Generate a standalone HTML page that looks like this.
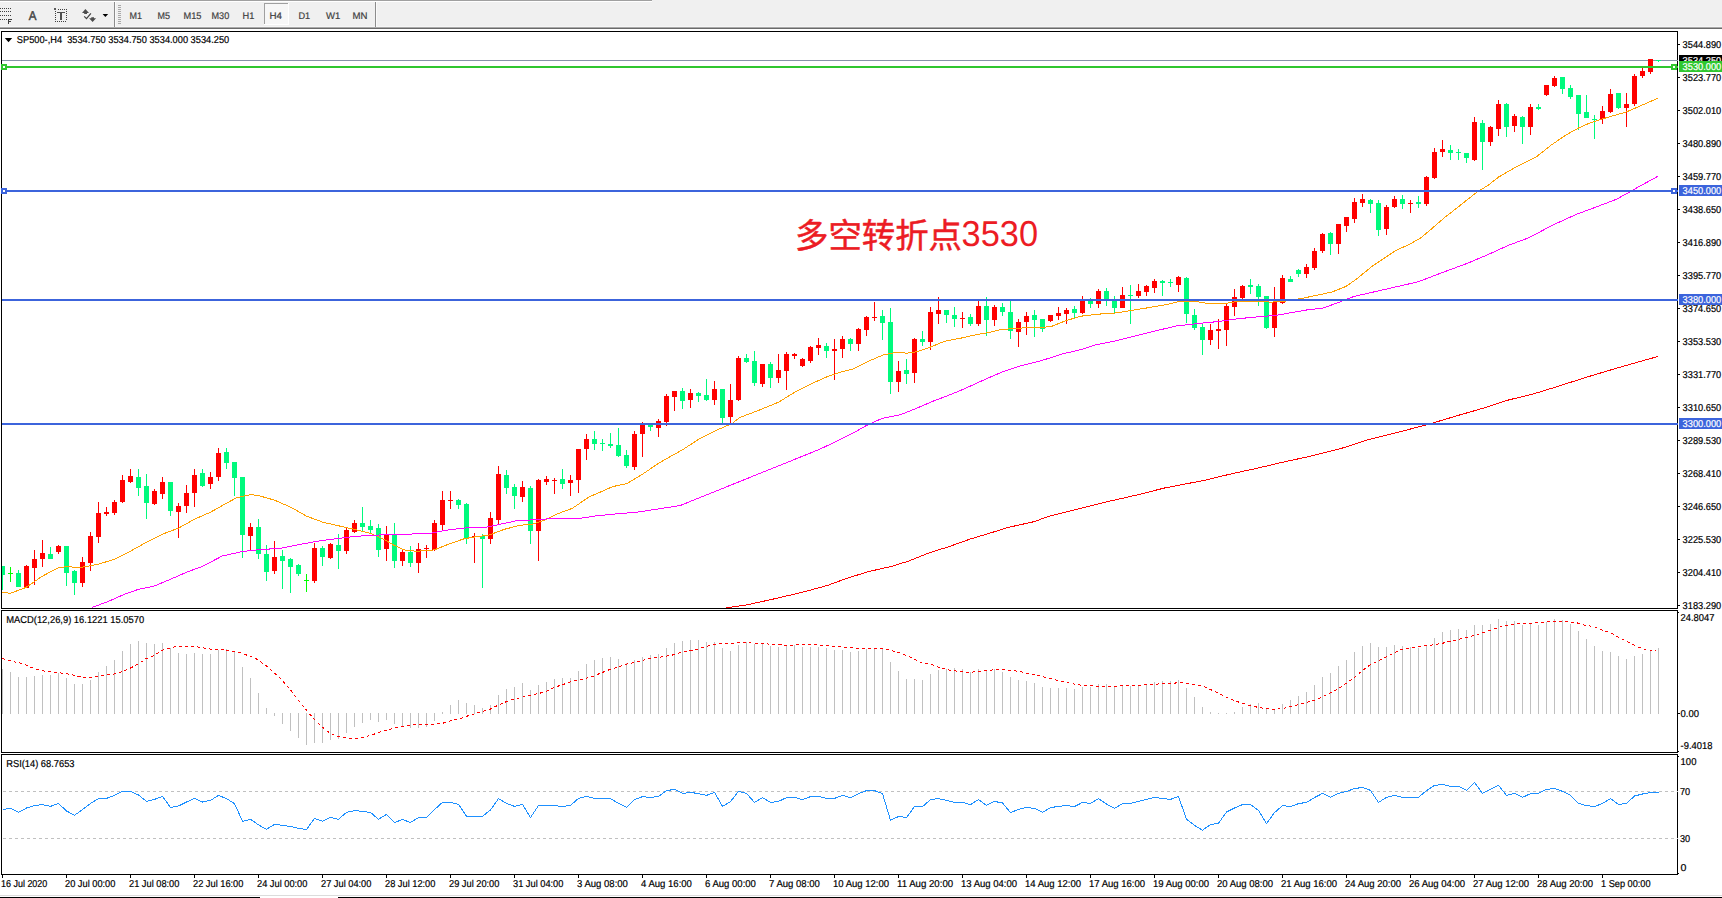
<!DOCTYPE html>
<html lang="zh-CN"><head><meta charset="utf-8"><title>SP500-,H4</title>
<style>html,body{margin:0;padding:0;background:#fff}body{width:1722px;height:898px;overflow:hidden;position:relative;font-family:'Liberation Sans', sans-serif}svg{display:block;position:absolute;left:0;top:0}text{font-family:'Liberation Sans', sans-serif;white-space:pre;text-rendering:geometricPrecision}.cjk{font-family:'Liberation Sans', 'Noto Sans CJK SC', sans-serif;font-weight:400}</style>
</head><body>
<svg width="1722" height="898" viewBox="0 0 1722 898">
<defs><clipPath id="cm"><rect x="2" y="32" width="1676" height="576"/></clipPath><clipPath id="cd"><rect x="2" y="611" width="1675" height="141"/></clipPath><clipPath id="cr"><rect x="2" y="755" width="1675" height="119"/></clipPath></defs>
<rect x="0" y="0" width="1722" height="898" fill="#fff"/>
<g shape-rendering="crispEdges">
<rect x="0" y="0" width="1722" height="27" fill="#f0f0f0"/>
<rect x="0" y="0" width="652" height="1" fill="#a0a0a0"/>
<rect x="0" y="1" width="652" height="1" fill="#ffffff"/>
<rect x="0" y="26" width="1722" height="1" fill="#f6f6f6"/>
<rect x="0" y="27" width="1722" height="1" fill="#a9a9a9"/>
<rect x="0" y="28" width="1722" height="1" fill="#6a6a6a"/>
<rect x="0" y="8" width="1" height="1" fill="#404040"/>
<rect x="2" y="8" width="1" height="1" fill="#404040"/>
<rect x="4" y="8" width="1" height="1" fill="#404040"/>
<rect x="6" y="8" width="1" height="1" fill="#404040"/>
<rect x="8" y="8" width="1" height="1" fill="#404040"/>
<rect x="10" y="8" width="1" height="1" fill="#404040"/>
<rect x="0" y="11" width="1" height="1" fill="#404040"/>
<rect x="2" y="11" width="1" height="1" fill="#404040"/>
<rect x="4" y="11" width="1" height="1" fill="#404040"/>
<rect x="6" y="11" width="1" height="1" fill="#404040"/>
<rect x="8" y="11" width="1" height="1" fill="#404040"/>
<rect x="10" y="11" width="1" height="1" fill="#404040"/>
<rect x="0" y="15" width="1" height="1" fill="#404040"/>
<rect x="2" y="15" width="1" height="1" fill="#404040"/>
<rect x="4" y="15" width="1" height="1" fill="#404040"/>
<rect x="6" y="15" width="1" height="1" fill="#404040"/>
<rect x="8" y="15" width="1" height="1" fill="#404040"/>
<rect x="10" y="15" width="1" height="1" fill="#404040"/>
<rect x="0" y="19" width="1" height="1" fill="#404040"/>
<rect x="2" y="19" width="1" height="1" fill="#404040"/>
<rect x="4" y="19" width="1" height="1" fill="#404040"/>
<rect x="6" y="19" width="1" height="1" fill="#404040"/>
<rect x="8" y="19" width="1.4" height="5" fill="#404040"/>
<rect x="8" y="19" width="4" height="1.2" fill="#404040"/>
<rect x="8" y="21" width="3" height="1" fill="#404040"/>
<rect x="58" y="9" width="1" height="1" fill="#404040"/>
<rect x="60" y="9" width="1" height="1" fill="#404040"/>
<rect x="62" y="9" width="1" height="1" fill="#404040"/>
<rect x="64" y="9" width="1" height="1" fill="#404040"/>
<rect x="66" y="9" width="1" height="1" fill="#404040"/>
<rect x="55" y="21" width="1" height="1" fill="#404040"/>
<rect x="57" y="21" width="1" height="1" fill="#404040"/>
<rect x="59" y="21" width="1" height="1" fill="#404040"/>
<rect x="61" y="21" width="1" height="1" fill="#404040"/>
<rect x="63" y="21" width="1" height="1" fill="#404040"/>
<rect x="65" y="21" width="1" height="1" fill="#404040"/>
<rect x="55" y="11" width="1" height="1" fill="#404040"/>
<rect x="66" y="11" width="1" height="1" fill="#404040"/>
<rect x="55" y="13" width="1" height="1" fill="#404040"/>
<rect x="66" y="13" width="1" height="1" fill="#404040"/>
<rect x="55" y="15" width="1" height="1" fill="#404040"/>
<rect x="66" y="15" width="1" height="1" fill="#404040"/>
<rect x="55" y="17" width="1" height="1" fill="#404040"/>
<rect x="66" y="17" width="1" height="1" fill="#404040"/>
<rect x="55" y="19" width="1" height="1" fill="#404040"/>
<rect x="66" y="19" width="1" height="1" fill="#404040"/>
<rect x="54" y="8" width="2" height="2" fill="#5a5a5a"/>
<rect x="57" y="12" width="8" height="1" fill="#505050"/>
<rect x="60" y="12" width="2" height="8" fill="#505050"/>
<rect x="114" y="2" width="1" height="25" fill="#8c8c8c"/>
<rect x="115" y="2" width="1" height="25" fill="#fafafa"/>
<rect x="375" y="2" width="1" height="25" fill="#8c8c8c"/>
<rect x="376" y="2" width="1" height="25" fill="#fafafa"/>
<rect x="118" y="5" width="3" height="1" fill="#a8a8a8"/>
<rect x="118" y="7" width="3" height="1" fill="#a8a8a8"/>
<rect x="118" y="9" width="3" height="1" fill="#a8a8a8"/>
<rect x="118" y="11" width="3" height="1" fill="#a8a8a8"/>
<rect x="118" y="13" width="3" height="1" fill="#a8a8a8"/>
<rect x="118" y="15" width="3" height="1" fill="#a8a8a8"/>
<rect x="118" y="17" width="3" height="1" fill="#a8a8a8"/>
<rect x="118" y="19" width="3" height="1" fill="#a8a8a8"/>
<rect x="118" y="21" width="3" height="1" fill="#a8a8a8"/>
<rect x="118" y="23" width="3" height="1" fill="#a8a8a8"/>
<rect x="264" y="3" width="25" height="22" fill="#f7f7f7"/>
<rect x="264" y="3" width="25" height="1" fill="#a0a0a0"/>
<rect x="264" y="3" width="1" height="22" fill="#a0a0a0"/>
<rect x="264" y="24" width="25" height="1" fill="#ffffff"/>
<rect x="288" y="3" width="1" height="22" fill="#ffffff"/>
</g>
<path fill="#4d4d4d" d="M85.4,9 L89,12.9 L87,12.9 L87,14 L84.2,14 L84.2,12.9 L82,12.9z"/>
<path fill="#4d4d4d" d="M92.6,22.1 L89.1,18.3 L91.3,18.3 L91.3,17.2 L94,17.2 L94,18.3 L96.1,18.3z"/>
<polyline points="84.2,16.3 86.5,18.7 90.9,13.3" fill="none" stroke="#444" stroke-width="1.2"/>
<polygon points="102.6,14 108.2,14 105.4,17.1" fill="#000"/>
<text transform="translate(28.75,19.85) scale(0.9019,1)" font-size="12.8" fill="#444" stroke="#444" stroke-width="0.5">A</text>
<text transform="translate(129.50,18.85) scale(0.9373,1)" font-size="9.6" fill="#404040" stroke="#404040" stroke-width="0.2">M1</text>
<text transform="translate(157.50,18.85) scale(0.9373,1)" font-size="9.6" fill="#404040" stroke="#404040" stroke-width="0.2">M5</text>
<text transform="translate(183.50,18.85) scale(0.9638,1)" font-size="9.6" fill="#404040" stroke="#404040" stroke-width="0.2">M15</text>
<text transform="translate(211.50,18.85) scale(0.9478,1)" font-size="9.6" fill="#404040" stroke="#404040" stroke-width="0.2">M30</text>
<text transform="translate(242.50,18.85) scale(0.9615,1)" font-size="9.6" fill="#404040" stroke="#404040" stroke-width="0.2">H1</text>
<text transform="translate(269.50,18.85) scale(1.0186,1)" font-size="9.6" fill="#404040" stroke="#404040" stroke-width="0.2">H4</text>
<text transform="translate(298.50,18.85) scale(0.9534,1)" font-size="9.6" fill="#404040" stroke="#404040" stroke-width="0.2">D1</text>
<text transform="translate(326.00,18.85) scale(0.9931,1)" font-size="9.6" fill="#404040" stroke="#404040" stroke-width="0.2">W1</text>
<text transform="translate(352.50,18.85) scale(1.0047,1)" font-size="9.6" fill="#404040" stroke="#404040" stroke-width="0.2">MN</text>
<g shape-rendering="crispEdges" fill="none" stroke="#000" stroke-width="1">
<rect x="1.5" y="31.5" width="1676" height="577"/>
<rect x="1.5" y="610.5" width="1676" height="142"/>
<rect x="1.5" y="754.5" width="1676" height="120"/>
</g>
<g shape-rendering="crispEdges">
<rect x="0" y="895" width="1722" height="1" fill="#dcdcdc"/>
<rect x="0" y="897" width="260" height="1" fill="#000"/>
<rect x="338" y="897" width="1384" height="1" fill="#000"/>
</g>
<g clip-path="url(#cm)">
<g shape-rendering="crispEdges">
<rect x="2" y="60" width="1676" height="1" fill="#8494a8"/>
</g>
<text class="cjk" x="795" y="248" font-size="34.5" fill="#ec1c24" stroke="#ec1c24" stroke-width="0.5" textLength="167" lengthAdjust="spacingAndGlyphs">多空转折点</text>
<text class="cjk" x="961.6" y="246.4" font-size="36" fill="#ec1c24" textLength="76.5" lengthAdjust="spacingAndGlyphs">3530</text>
<g shape-rendering="crispEdges">
<path fill="#ff0000" d="M24,566h5v22h-5zM26,565h1v23h-1zM32,559h5v9h-5zM34,550h1v35h-1zM40,553h5v6h-5zM42,540h1v27h-1zM56,546h5v6h-5zM58,545h1v9h-1zM80,562h5v21h-5zM82,557h1v30h-1zM88,536h5v27h-5zM90,532h1v39h-1zM96,513h5v24h-5zM98,502h1v41h-1zM104,512h5v2h-5zM106,507h1v9h-1zM112,502h5v11h-5zM114,500h1v15h-1zM120,480h5v22h-5zM122,475h1v28h-1zM128,476h5v6h-5zM130,469h1v14h-1zM152,491h5v13h-5zM154,489h1v16h-1zM160,482h5v12h-5zM162,477h1v22h-1zM176,506h5v6h-5zM178,503h1v35h-1zM184,493h5v13h-5zM186,485h1v28h-1zM192,475h5v18h-5zM194,469h1v38h-1zM208,477h5v7h-5zM210,472h1v17h-1zM216,453h5v24h-5zM218,448h1v33h-1zM248,527h5v9h-5zM250,523h1v27h-1zM272,557h5v14h-5zM274,541h1v33h-1zM312,548h5v33h-5zM314,543h1v40h-1zM328,544h5v14h-5zM330,543h1v16h-1zM344,530h5v21h-5zM346,528h1v26h-1zM352,523h5v9h-5zM354,520h1v13h-1zM384,535h5v14h-5zM386,526h1v35h-1zM400,552h5v9h-5zM402,550h1v16h-1zM416,549h5v14h-5zM418,543h1v30h-1zM424,548h5v1h-5zM426,545h1v13h-1zM432,523h5v27h-5zM434,520h1v31h-1zM440,500h5v25h-5zM442,491h1v40h-1zM448,500h5v1h-5zM450,491h1v18h-1zM472,536h5v1h-5zM474,533h1v30h-1zM488,518h5v21h-5zM490,512h1v32h-1zM496,474h5v46h-5zM498,466h1v58h-1zM520,487h5v10h-5zM522,481h1v21h-1zM536,480h5v51h-5zM538,479h1v82h-1zM544,479h5v3h-5zM546,476h1v9h-1zM552,480h5v1h-5zM554,478h1v16h-1zM568,480h5v3h-5zM570,475h1v21h-1zM576,449h5v31h-5zM578,449h1v44h-1zM584,439h5v10h-5zM586,434h1v26h-1zM632,434h5v33h-5zM634,431h1v39h-1zM640,423h5v11h-5zM642,422h1v35h-1zM656,421h5v7h-5zM658,419h1v18h-1zM664,396h5v26h-5zM666,394h1v32h-1zM672,391h5v6h-5zM674,391h1v20h-1zM688,393h5v7h-5zM690,389h1v19h-1zM712,389h5v11h-5zM714,381h1v24h-1zM728,400h5v17h-5zM730,384h1v39h-1zM736,358h5v42h-5zM738,356h1v45h-1zM760,364h5v20h-5zM762,364h1v23h-1zM776,370h5v8h-5zM778,354h1v29h-1zM784,354h5v17h-5zM786,352h1v38h-1zM792,354h5v2h-5zM794,353h1v6h-1zM800,359h5v7h-5zM802,358h1v9h-1zM808,347h5v14h-5zM810,346h1v17h-1zM816,345h5v3h-5zM818,338h1v17h-1zM832,349h5v2h-5zM834,339h1v41h-1zM840,339h5v10h-5zM842,336h1v22h-1zM856,329h5v15h-5zM858,328h1v23h-1zM864,317h5v13h-5zM866,316h1v20h-1zM872,317h5v1h-5zM874,302h1v19h-1zM896,371h5v11h-5zM898,361h1v31h-1zM912,339h5v34h-5zM914,338h1v45h-1zM928,312h5v30h-5zM930,307h1v43h-1zM936,310h5v4h-5zM938,297h1v27h-1zM960,318h5v1h-5zM962,312h1v16h-1zM976,306h5v18h-5zM978,301h1v25h-1zM992,307h5v13h-5zM994,305h1v21h-1zM1016,322h5v10h-5zM1018,319h1v28h-1zM1024,316h5v6h-5zM1026,312h1v23h-1zM1048,315h5v6h-5zM1050,315h1v7h-1zM1056,313h5v3h-5zM1058,307h1v13h-1zM1064,310h5v4h-5zM1066,308h1v16h-1zM1080,300h5v13h-5zM1082,296h1v18h-1zM1096,291h5v13h-5zM1098,289h1v19h-1zM1120,295h5v13h-5zM1122,287h1v21h-1zM1136,291h5v5h-5zM1138,284h1v14h-1zM1144,286h5v6h-5zM1146,285h1v11h-1zM1152,281h5v7h-5zM1154,279h1v14h-1zM1176,277h5v8h-5zM1178,276h1v16h-1zM1208,330h5v10h-5zM1210,324h1v21h-1zM1216,329h5v2h-5zM1218,319h1v30h-1zM1224,306h5v24h-5zM1226,304h1v42h-1zM1232,297h5v10h-5zM1234,289h1v27h-1zM1240,286h5v12h-5zM1242,285h1v14h-1zM1272,302h5v26h-5zM1274,287h1v50h-1zM1280,278h5v25h-5zM1282,275h1v29h-1zM1304,267h5v7h-5zM1306,264h1v14h-1zM1312,251h5v17h-5zM1314,248h1v22h-1zM1320,234h5v17h-5zM1322,233h1v20h-1zM1336,224h5v20h-5zM1338,224h1v30h-1zM1344,217h5v9h-5zM1346,217h1v15h-1zM1352,202h5v17h-5zM1354,198h1v25h-1zM1360,199h5v4h-5zM1362,194h1v13h-1zM1384,207h5v22h-5zM1386,205h1v30h-1zM1392,199h5v8h-5zM1394,196h1v12h-1zM1408,203h5v1h-5zM1410,200h1v13h-1zM1424,177h5v27h-5zM1426,176h1v30h-1zM1432,152h5v26h-5zM1434,148h1v31h-1zM1440,149h5v3h-5zM1442,140h1v17h-1zM1472,122h5v38h-5zM1474,117h1v44h-1zM1488,127h5v15h-5zM1490,126h1v20h-1zM1496,104h5v25h-5zM1498,100h1v36h-1zM1512,116h5v10h-5zM1514,114h1v18h-1zM1528,107h5v20h-5zM1530,104h1v31h-1zM1544,85h5v10h-5zM1546,85h1v11h-1zM1552,78h5v8h-5zM1554,76h1v11h-1zM1600,111h5v8h-5zM1602,106h1v18h-1zM1608,94h5v18h-5zM1610,89h1v24h-1zM1624,104h5v4h-5zM1626,93h1v34h-1zM1632,76h5v28h-5zM1634,74h1v32h-1zM1640,71h5v5h-5zM1642,68h1v10h-1zM1648,59h5v13h-5zM1650,59h1v15h-1z"/>
<path fill="#00fa7d" d="M0,566h5v9h-5zM2,566h1v24h-1zM16,573h5v14h-5zM18,570h1v17h-1zM48,554h5v5h-5zM50,547h1v12h-1zM64,546h5v27h-5zM66,546h1v40h-1zM72,571h5v12h-5zM74,570h1v25h-1zM136,477h5v11h-5zM138,469h1v27h-1zM144,486h5v17h-5zM146,474h1v45h-1zM168,482h5v29h-5zM170,482h1v34h-1zM200,473h5v13h-5zM202,469h1v18h-1zM224,452h5v11h-5zM226,448h1v21h-1zM232,462h5v16h-5zM234,462h1v34h-1zM240,477h5v58h-5zM242,477h1v81h-1zM256,527h5v27h-5zM258,519h1v40h-1zM264,554h5v18h-5zM266,545h1v36h-1zM280,556h5v5h-5zM282,550h1v39h-1zM288,559h5v8h-5zM290,558h1v35h-1zM296,565h5v9h-5zM298,564h1v12h-1zM320,548h5v9h-5zM322,546h1v20h-1zM336,545h5v6h-5zM338,534h1v35h-1zM360,523h5v4h-5zM362,507h1v24h-1zM368,526h5v4h-5zM370,520h1v13h-1zM376,528h5v22h-5zM378,524h1v33h-1zM392,534h5v27h-5zM394,523h1v45h-1zM408,552h5v11h-5zM410,546h1v21h-1zM456,500h5v5h-5zM458,499h1v10h-1zM464,504h5v34h-5zM466,503h1v41h-1zM480,536h5v3h-5zM482,534h1v54h-1zM504,475h5v13h-5zM506,470h1v24h-1zM512,487h5v9h-5zM514,484h1v25h-1zM528,488h5v43h-5zM530,486h1v58h-1zM560,479h5v5h-5zM562,469h1v20h-1zM592,439h5v5h-5zM594,431h1v19h-1zM600,443h5v1h-5zM602,439h1v12h-1zM608,444h5v2h-5zM610,433h1v15h-1zM616,445h5v11h-5zM618,428h1v29h-1zM624,455h5v11h-5zM626,450h1v18h-1zM648,423h5v4h-5zM650,423h1v8h-1zM680,391h5v10h-5zM682,388h1v21h-1zM696,393h5v3h-5zM698,392h1v10h-1zM704,395h5v5h-5zM706,379h1v22h-1zM720,389h5v29h-5zM722,389h1v34h-1zM744,358h5v4h-5zM746,354h1v9h-1zM752,361h5v22h-5zM754,351h1v35h-1zM768,364h5v14h-5zM770,362h1v26h-1zM824,346h5v5h-5zM826,343h1v15h-1zM848,339h5v5h-5zM850,338h1v13h-1zM880,316h5v7h-5zM882,310h1v30h-1zM888,322h5v60h-5zM890,308h1v86h-1zM904,370h5v4h-5zM906,359h1v25h-1zM920,339h5v3h-5zM922,331h1v15h-1zM944,310h5v5h-5zM946,310h1v13h-1zM952,315h5v4h-5zM954,307h1v20h-1zM968,317h5v7h-5zM970,314h1v12h-1zM984,306h5v14h-5zM986,297h1v39h-1zM1000,307h5v5h-5zM1002,303h1v13h-1zM1008,312h5v19h-5zM1010,301h1v38h-1zM1032,315h5v5h-5zM1034,310h1v27h-1zM1040,319h5v10h-5zM1042,319h1v13h-1zM1072,309h5v4h-5zM1074,306h1v12h-1zM1088,300h5v4h-5zM1090,298h1v10h-1zM1104,291h5v9h-5zM1106,288h1v18h-1zM1112,300h5v8h-5zM1114,296h1v17h-1zM1128,295h5v1h-5zM1130,285h1v39h-1zM1160,281h5v2h-5zM1162,280h1v16h-1zM1168,282h5v1h-5zM1170,279h1v8h-1zM1184,278h5v36h-5zM1186,277h1v46h-1zM1192,315h5v13h-5zM1194,309h1v21h-1zM1200,327h5v13h-5zM1202,324h1v31h-1zM1248,285h5v2h-5zM1250,279h1v15h-1zM1256,286h5v11h-5zM1258,284h1v22h-1zM1264,296h5v32h-5zM1266,296h1v33h-1zM1288,279h5v3h-5zM1290,276h1v6h-1zM1296,270h5v4h-5zM1298,269h1v8h-1zM1328,233h5v11h-5zM1330,232h1v23h-1zM1368,200h5v4h-5zM1370,199h1v14h-1zM1376,203h5v27h-5zM1378,200h1v36h-1zM1400,199h5v5h-5zM1402,195h1v14h-1zM1416,202h5v2h-5zM1418,196h1v12h-1zM1448,150h5v3h-5zM1450,145h1v15h-1zM1456,152h5v1h-5zM1458,149h1v11h-1zM1464,153h5v5h-5zM1466,153h1v10h-1zM1480,123h5v19h-5zM1482,120h1v50h-1zM1504,104h5v23h-5zM1506,103h1v34h-1zM1520,117h5v10h-5zM1522,116h1v28h-1zM1536,107h5v2h-5zM1538,104h1v6h-1zM1560,77h5v12h-5zM1562,77h1v17h-1zM1568,88h5v9h-5zM1570,85h1v14h-1zM1576,95h5v19h-5zM1578,95h1v35h-1zM1584,112h5v6h-5zM1586,95h1v23h-1zM1592,119h5v1h-5zM1594,115h1v24h-1zM1616,93h5v15h-5zM1618,93h1v16h-1zM1656,60h5v1h-5zM1658,60h1v2h-1z"/>
<path fill="#00ff00" d="M8,573h5v1h-5zM10,567h1v15h-1zM304,580h5v1h-5zM306,574h1v18h-1z"/>
</g>
<g shape-rendering="crispEdges" fill="none" stroke-width="1">
<polyline stroke="#ffa000" points="2.0,592.0 10.0,593.4 26.1,587.4 42.1,576.3 58.1,567.9 66.2,566.7 80.2,567.5 98.2,564.3 114.3,559.3 130.3,551.3 146.3,542.3 162.4,534.2 178.4,528.2 194.5,519.2 210.5,512.2 226.5,503.2 236.6,497.8 250.6,494.6 258.6,495.6 274.6,500.2 290.7,507.2 306.7,516.2 322.8,522.2 336.0,525.2 354.0,529.3 370.1,533.3 382.1,538.3 394.1,545.3 404.2,549.9 416.2,551.3 434.2,549.9 448.3,544.3 464.3,538.7 476.3,536.7 488.4,535.3 504.4,529.3 520.4,525.2 532.5,524.2 544.5,520.2 556.5,514.2 572.6,508.2 588.6,497.2 604.6,490.2 612.6,486.6 626.7,483.7 642.7,474.1 658.8,463.1 683.1,449.4 700.1,438.4 716.2,430.4 732.2,423.4 740.2,417.3 756.3,411.3 778.3,402.3 796.3,391.3 812.4,383.3 828.4,376.2 840.4,372.2 852.5,369.2 868.5,361.2 882.5,355.2 896.6,352.2 906.6,353.2 916.6,351.8 928.7,347.8 944.7,341.2 960.7,338.2 976.0,334.7 988.0,332.7 1000.1,329.7 1016.1,328.3 1036.1,327.3 1050.2,326.9 1064.2,321.3 1080.2,316.3 1096.3,314.3 1116.3,312.9 1132.4,310.3 1148.4,307.7 1168.4,304.2 1178.5,301.6 1196.5,301.6 1208.5,303.6 1226.6,303.2 1236.6,301.6 1246.6,301.2 1260.7,301.2 1270.7,302.2 1284.7,301.2 1302.0,298.4 1316.0,295.4 1332.1,292.0 1346.1,286.4 1356.1,279.3 1372.2,266.3 1384.2,258.3 1396.2,250.3 1408.3,244.9 1420.3,238.3 1432.3,228.2 1444.3,217.8 1460.4,205.2 1476.4,192.5 1488.4,185.1 1498.5,177.1 1516.5,166.7 1525.0,162.6 1537.0,156.3 1552.1,144.4 1567.2,134.3 1578.5,128.0 1589.8,123.0 1602.4,118.9 1615.0,115.2 1626.3,112.0 1640.1,106.0 1650.2,101.6 1657.7,98.2"/>
<polyline stroke="#ff00ff" points="92.2,607.4 108.3,601.4 124.3,594.4 138.3,589.4 154.4,586.0 170.4,579.3 186.4,572.3 202.5,566.3 222.5,555.9 242.6,551.5 258.6,549.7 280.7,548.3 300.7,544.3 320.7,540.7 336.0,538.7 356.0,536.3 384.1,534.7 416.2,533.9 430.2,533.3 448.3,529.9 466.3,527.9 486.3,527.2 500.4,524.2 516.4,520.8 536.5,519.6 556.5,518.4 580.6,518.2 596.6,515.8 616.7,513.8 636.7,512.2 656.7,509.2 680.0,505.6 819.4,449.4 836.4,441.4 852.5,433.4 868.5,424.4 882.5,418.3 900.6,414.7 916.6,408.3 932.7,401.3 948.7,395.3 964.7,388.7 980.8,381.3 985.0,379.4 1002.1,372.0 1020.1,366.0 1042.2,360.4 1062.2,354.0 1082.2,349.3 1096.3,344.7 1116.3,340.7 1136.4,335.7 1156.4,330.7 1176.5,325.9 1196.5,323.7 1216.6,321.7 1236.6,318.9 1256.7,316.9 1276.7,315.3 1296.7,311.7 1310.0,309.4 1322.1,308.4 1336.1,303.4 1354.1,296.4 1376.2,291.4 1396.2,286.8 1418.3,281.8 1440.3,273.3 1466.4,263.7 1486.4,255.3 1508.5,245.3 1528.5,237.9 1552.6,225.2 1576.7,214.2 1596.7,206.8 1616.7,199.2 1632.8,190.1 1640.0,186.1 1657.6,176.4"/>
<polyline stroke="#ff0000" points="726.1,607.9 746.5,605.0 772.6,599.2 801.6,592.5 827.8,585.3 845.2,578.9 868.4,571.6 891.6,566.4 909.1,560.9 929.4,552.8 949.7,546.4 970.0,539.1 990.4,533.0 1007.8,527.5 1033.9,521.7 1048.4,516.5 1077.5,509.2 1106.5,501.9 1135.5,495.3 1164.6,488.0 1206.1,480.0 1232.3,473.6 1255.5,468.6 1281.6,462.5 1310.7,456.1 1339.7,448.9 1368.7,439.6 1397.8,432.3 1426.8,424.8 1455.8,416.1 1484.9,407.7 1508.1,400.1 1534.2,393.7 1557.5,386.5 1586.5,377.2 1615.5,368.5 1638.8,361.8 1657.6,356.6"/>
<rect x="2" y="66" width="1676" height="2" fill="#2fc72f"/>
<rect x="2" y="190" width="1676" height="2" fill="#3c64dc"/>
<rect x="2" y="299" width="1676" height="2" fill="#3c64dc"/>
<rect x="2" y="423" width="1676" height="2" fill="#3c64dc"/>
</g>
</g>
<g shape-rendering="crispEdges">
<rect x="1" y="64" width="6" height="6" fill="#2fc72f"/>
<rect x="3" y="66" width="2" height="2" fill="#fff"/>
<rect x="1671" y="64" width="6" height="6" fill="#2fc72f"/>
<rect x="1673" y="66" width="2" height="2" fill="#fff"/>
<rect x="1" y="188" width="6" height="6" fill="#3c64dc"/>
<rect x="3" y="190" width="2" height="2" fill="#fff"/>
<rect x="1671" y="188" width="6" height="6" fill="#3c64dc"/>
<rect x="1673" y="190" width="2" height="2" fill="#fff"/>
</g>
<polygon points="4.8,38 12.2,38 8.5,42.2" fill="#000"/>
<text transform="translate(16.80,42.85) scale(0.9249,1)" font-size="10" fill="#000" stroke="#000" stroke-width="0.2">SP500-,H4  3534.750 3534.750 3534.000 3534.250</text>
<g shape-rendering="crispEdges">
<rect x="1678" y="44" width="2" height="1" fill="#000"/>
<rect x="1678" y="77" width="2" height="1" fill="#000"/>
<rect x="1678" y="110" width="2" height="1" fill="#000"/>
<rect x="1678" y="143" width="2" height="1" fill="#000"/>
<rect x="1678" y="176" width="2" height="1" fill="#000"/>
<rect x="1678" y="209" width="2" height="1" fill="#000"/>
<rect x="1678" y="242" width="2" height="1" fill="#000"/>
<rect x="1678" y="275" width="2" height="1" fill="#000"/>
<rect x="1678" y="308" width="2" height="1" fill="#000"/>
<rect x="1678" y="341" width="2" height="1" fill="#000"/>
<rect x="1678" y="374" width="2" height="1" fill="#000"/>
<rect x="1678" y="407" width="2" height="1" fill="#000"/>
<rect x="1678" y="440" width="2" height="1" fill="#000"/>
<rect x="1678" y="473" width="2" height="1" fill="#000"/>
<rect x="1678" y="506" width="2" height="1" fill="#000"/>
<rect x="1678" y="539" width="2" height="1" fill="#000"/>
<rect x="1678" y="572" width="2" height="1" fill="#000"/>
<rect x="1678" y="605" width="2" height="1" fill="#000"/>
<rect x="1678" y="612" width="1" height="1" fill="#000"/>
<rect x="1678" y="751" width="1" height="1" fill="#000"/>
<rect x="1678" y="756" width="1" height="1" fill="#000"/>
<rect x="1678" y="873" width="1" height="1" fill="#000"/>
</g>
<text transform="translate(1682.60,47.85) scale(0.9255,1)" font-size="10" fill="#000" stroke="#000" stroke-width="0.2">3544.890</text>
<text transform="translate(1682.60,80.85) scale(0.9255,1)" font-size="10" fill="#000" stroke="#000" stroke-width="0.2">3523.770</text>
<text transform="translate(1682.60,113.85) scale(0.9255,1)" font-size="10" fill="#000" stroke="#000" stroke-width="0.2">3502.010</text>
<text transform="translate(1682.60,146.85) scale(0.9255,1)" font-size="10" fill="#000" stroke="#000" stroke-width="0.2">3480.890</text>
<text transform="translate(1682.60,179.85) scale(0.9255,1)" font-size="10" fill="#000" stroke="#000" stroke-width="0.2">3459.770</text>
<text transform="translate(1682.60,212.85) scale(0.9255,1)" font-size="10" fill="#000" stroke="#000" stroke-width="0.2">3438.650</text>
<text transform="translate(1682.60,245.85) scale(0.9255,1)" font-size="10" fill="#000" stroke="#000" stroke-width="0.2">3416.890</text>
<text transform="translate(1682.60,278.85) scale(0.9255,1)" font-size="10" fill="#000" stroke="#000" stroke-width="0.2">3395.770</text>
<text transform="translate(1682.60,311.85) scale(0.9255,1)" font-size="10" fill="#000" stroke="#000" stroke-width="0.2">3374.650</text>
<text transform="translate(1682.60,344.85) scale(0.9255,1)" font-size="10" fill="#000" stroke="#000" stroke-width="0.2">3353.530</text>
<text transform="translate(1682.60,377.85) scale(0.9255,1)" font-size="10" fill="#000" stroke="#000" stroke-width="0.2">3331.770</text>
<text transform="translate(1682.60,410.85) scale(0.9255,1)" font-size="10" fill="#000" stroke="#000" stroke-width="0.2">3310.650</text>
<text transform="translate(1682.60,443.85) scale(0.9255,1)" font-size="10" fill="#000" stroke="#000" stroke-width="0.2">3289.530</text>
<text transform="translate(1682.60,476.85) scale(0.9255,1)" font-size="10" fill="#000" stroke="#000" stroke-width="0.2">3268.410</text>
<text transform="translate(1682.60,509.85) scale(0.9255,1)" font-size="10" fill="#000" stroke="#000" stroke-width="0.2">3246.650</text>
<text transform="translate(1682.60,542.85) scale(0.9255,1)" font-size="10" fill="#000" stroke="#000" stroke-width="0.2">3225.530</text>
<text transform="translate(1682.60,575.85) scale(0.9255,1)" font-size="10" fill="#000" stroke="#000" stroke-width="0.2">3204.410</text>
<text transform="translate(1682.60,608.85) scale(0.9255,1)" font-size="10" fill="#000" stroke="#000" stroke-width="0.2">3183.290</text>
<g shape-rendering="crispEdges">
<rect x="1679" y="55" width="43" height="11" fill="#000"/>
<rect x="1679" y="61" width="43" height="11" fill="#2fc72f"/>
<rect x="1679" y="185" width="43" height="11" fill="#3c64dc"/>
<rect x="1679" y="294" width="43" height="11" fill="#3c64dc"/>
<rect x="1679" y="418" width="43" height="11" fill="#3c64dc"/>
</g>
<text transform="translate(1682.60,63.85) scale(0.9255,1)" font-size="10" fill="#fff" stroke="#fff" stroke-width="0.2">3534.250</text>
<rect x="1679" y="61" width="43" height="11" fill="#2fc72f" shape-rendering="crispEdges"/>
<text transform="translate(1682.60,69.85) scale(0.9255,1)" font-size="10" fill="#fff" stroke="#fff" stroke-width="0.2">3530.000</text>
<text transform="translate(1682.60,193.85) scale(0.9255,1)" font-size="10" fill="#fff" stroke="#fff" stroke-width="0.2">3450.000</text>
<text transform="translate(1682.60,302.85) scale(0.9255,1)" font-size="10" fill="#fff" stroke="#fff" stroke-width="0.2">3380.000</text>
<text transform="translate(1682.60,426.85) scale(0.9255,1)" font-size="10" fill="#fff" stroke="#fff" stroke-width="0.2">3300.000</text>
<g clip-path="url(#cd)">
<g shape-rendering="crispEdges">
<path fill="#c0c0c0" d="M2,669h1v45h-1zM10,672h1v42h-1zM18,677h1v37h-1zM26,677h1v37h-1zM34,676h1v38h-1zM42,675h1v39h-1zM50,675h1v39h-1zM58,673h1v41h-1zM66,678h1v36h-1zM74,684h1v30h-1zM82,684h1v30h-1zM90,680h1v34h-1zM98,672h1v42h-1zM106,666h1v48h-1zM114,660h1v54h-1zM122,651h1v63h-1zM130,644h1v70h-1zM138,641h1v73h-1zM146,643h1v71h-1zM154,644h1v70h-1zM162,643h1v71h-1zM170,648h1v66h-1zM178,653h1v61h-1zM186,654h1v60h-1zM194,653h1v61h-1zM202,654h1v60h-1zM210,654h1v60h-1zM218,650h1v64h-1zM226,649h1v65h-1zM234,652h1v62h-1zM242,667h1v47h-1zM250,678h1v36h-1zM258,693h1v21h-1zM266,708h1v6h-1zM274,713h1v3h-1zM282,713h1v11h-1zM290,713h1v18h-1zM298,713h1v25h-1zM306,713h1v32h-1zM314,713h1v30h-1zM322,713h1v30h-1zM330,713h1v27h-1zM338,713h1v26h-1zM346,713h1v20h-1zM354,713h1v14h-1zM362,713h1v10h-1zM370,713h1v7h-1zM378,713h1v9h-1zM386,713h1v7h-1zM394,713h1v11h-1zM402,713h1v13h-1zM410,713h1v15h-1zM418,713h1v15h-1zM426,713h1v14h-1zM434,713h1v8h-1zM442,712h1v2h-1zM450,705h1v9h-1zM458,700h1v14h-1zM466,703h1v11h-1zM474,705h1v9h-1zM482,708h1v6h-1zM490,705h1v9h-1zM498,695h1v19h-1zM506,689h1v25h-1zM514,687h1v27h-1zM522,683h1v31h-1zM530,690h1v24h-1zM538,685h1v29h-1zM546,682h1v32h-1zM554,679h1v35h-1zM562,678h1v36h-1zM570,678h1v36h-1zM578,671h1v43h-1zM586,664h1v50h-1zM594,660h1v54h-1zM602,658h1v56h-1zM610,657h1v57h-1zM618,659h1v55h-1zM626,663h1v51h-1zM634,660h1v54h-1zM642,657h1v57h-1zM650,655h1v59h-1zM658,654h1v60h-1zM666,648h1v66h-1zM674,643h1v71h-1zM682,641h1v73h-1zM690,640h1v74h-1zM698,640h1v74h-1zM706,642h1v72h-1zM714,642h1v72h-1zM722,648h1v66h-1zM730,651h1v63h-1zM738,645h1v69h-1zM746,642h1v72h-1zM754,644h1v70h-1zM762,643h1v71h-1zM770,646h1v68h-1zM778,647h1v67h-1zM786,646h1v68h-1zM794,645h1v69h-1zM802,647h1v67h-1zM810,647h1v67h-1zM818,647h1v67h-1zM826,648h1v66h-1zM834,650h1v64h-1zM842,650h1v64h-1zM850,652h1v62h-1zM858,651h1v63h-1zM866,649h1v65h-1zM874,648h1v66h-1zM882,648h1v66h-1zM890,662h1v52h-1zM898,671h1v43h-1zM906,679h1v35h-1zM914,679h1v35h-1zM922,680h1v34h-1zM930,674h1v40h-1zM938,670h1v44h-1zM946,669h1v45h-1zM954,668h1v46h-1zM962,669h1v45h-1zM970,672h1v42h-1zM978,669h1v45h-1zM986,670h1v44h-1zM994,669h1v45h-1zM1002,672h1v42h-1zM1010,677h1v37h-1zM1018,680h1v34h-1zM1026,681h1v33h-1zM1034,683h1v31h-1zM1042,687h1v27h-1zM1050,688h1v26h-1zM1058,688h1v26h-1zM1066,688h1v26h-1zM1074,689h1v25h-1zM1082,687h1v27h-1zM1090,687h1v27h-1zM1098,684h1v30h-1zM1106,684h1v30h-1zM1114,686h1v28h-1zM1122,685h1v29h-1zM1130,686h1v28h-1zM1138,685h1v29h-1zM1146,684h1v30h-1zM1154,682h1v32h-1zM1162,681h1v33h-1zM1170,681h1v33h-1zM1178,680h1v34h-1zM1186,688h1v26h-1zM1194,697h1v17h-1zM1202,707h1v7h-1zM1210,712h1v2h-1zM1218,713h1v1h-1zM1226,713h1v1h-1zM1234,712h1v2h-1zM1242,707h1v7h-1zM1250,704h1v10h-1zM1258,703h1v11h-1zM1266,709h1v5h-1zM1274,709h1v5h-1zM1282,704h1v10h-1zM1290,700h1v14h-1zM1298,696h1v18h-1zM1306,692h1v22h-1zM1314,685h1v29h-1zM1322,677h1v37h-1zM1330,673h1v41h-1zM1338,666h1v48h-1zM1346,660h1v54h-1zM1354,652h1v62h-1zM1362,646h1v68h-1zM1370,643h1v71h-1zM1378,647h1v67h-1zM1386,647h1v67h-1zM1394,645h1v69h-1zM1402,646h1v68h-1zM1410,647h1v67h-1zM1418,648h1v66h-1zM1426,645h1v69h-1zM1434,638h1v76h-1zM1442,632h1v82h-1zM1450,630h1v84h-1zM1458,629h1v85h-1zM1466,630h1v84h-1zM1474,625h1v89h-1zM1482,625h1v89h-1zM1490,624h1v90h-1zM1498,619h1v95h-1zM1506,621h1v93h-1zM1514,621h1v93h-1zM1522,625h1v89h-1zM1530,624h1v90h-1zM1538,625h1v89h-1zM1546,622h1v92h-1zM1554,619h1v95h-1zM1562,620h1v94h-1zM1570,624h1v90h-1zM1578,631h1v83h-1zM1586,639h1v75h-1zM1594,646h1v68h-1zM1602,651h1v63h-1zM1610,652h1v62h-1zM1618,656h1v58h-1zM1626,659h1v55h-1zM1634,656h1v58h-1zM1642,654h1v60h-1zM1650,650h1v64h-1zM1658,648h1v66h-1z"/>
</g>
<polyline shape-rendering="crispEdges" fill="none" stroke="#ff0000" stroke-width="1" stroke-dasharray="3 3" points="2.0,658.3 10.0,660.9 22.0,663.5 34.0,668.5 45.9,671.5 57.9,672.5 69.9,674.3 81.9,677.3 91.9,677.3 99.9,675.9 117.9,673.5 129.8,668.3 137.8,664.3 145.8,658.9 153.8,655.5 163.8,649.6 175.8,646.6 195.8,646.6 209.8,649.0 225.7,650.0 235.7,651.6 243.7,653.9 255.7,658.5 267.7,666.9 279.7,677.9 289.7,688.9 299.7,701.9 309.6,713.9 319.6,724.9 329.6,732.9 338.0,736.5 346.0,737.5 354.0,738.9 362.0,737.5 370.0,735.5 381.9,731.5 393.9,728.3 403.9,726.3 415.9,724.5 427.9,724.5 441.9,723.5 451.9,720.5 459.9,718.9 467.8,715.9 477.8,712.9 489.8,709.3 501.8,703.5 511.8,699.5 523.8,696.9 531.8,694.9 543.8,692.3 555.7,686.9 563.7,684.3 571.7,681.5 579.7,679.9 591.7,676.9 597.7,674.3 609.7,669.5 619.7,666.5 627.7,663.9 639.6,661.3 647.6,658.9 659.6,657.3 671.6,655.3 674.0,654.5 680.0,652.6 688.0,651.0 698.0,649.0 706.0,646.6 717.9,643.6 729.9,643.4 739.9,642.4 747.9,642.6 755.9,643.6 767.9,644.0 779.9,644.6 787.9,646.0 795.9,644.6 811.8,644.6 827.8,645.6 835.8,646.6 851.8,647.4 859.8,648.6 871.8,648.4 883.8,648.4 891.7,650.6 899.7,653.0 909.7,656.9 919.7,661.9 929.7,663.9 939.7,667.5 949.7,670.3 959.7,671.5 969.7,672.3 979.6,671.5 987.6,670.3 999.6,669.5 1010.0,670.3 1020.0,671.5 1030.0,673.9 1042.0,676.5 1053.9,679.5 1065.9,682.3 1077.9,684.9 1087.9,685.5 1099.9,686.3 1113.9,686.3 1127.9,685.5 1139.8,685.3 1151.8,684.5 1163.8,683.5 1173.8,683.3 1179.8,682.3 1189.8,683.5 1203.8,686.5 1215.8,691.9 1227.7,697.9 1239.7,702.5 1247.7,704.9 1257.7,707.3 1267.7,708.9 1275.7,709.3 1285.7,707.9 1295.7,705.3 1305.7,702.5 1315.6,699.9 1323.6,696.3 1331.6,692.3 1339.6,687.9 1346.0,683.5 1354.0,677.9 1362.0,670.9 1370.0,664.9 1378.0,660.9 1386.0,656.9 1393.9,653.0 1401.9,649.4 1411.9,647.4 1419.9,646.4 1431.9,645.0 1441.9,643.4 1449.9,641.4 1459.9,639.0 1467.9,637.0 1475.8,635.0 1483.8,632.6 1491.8,629.6 1499.8,627.0 1509.8,625.0 1519.8,623.6 1531.8,623.4 1539.8,622.4 1551.8,621.6 1563.7,621.4 1575.7,622.4 1583.7,625.0 1593.7,626.6 1603.7,630.6 1611.7,633.4 1621.7,639.0 1631.7,644.0 1641.7,648.6 1649.6,650.0 1655.6,650.6"/>
</g>
<text transform="translate(6.20,622.85) scale(0.9367,1)" font-size="10" fill="#000" stroke="#000" stroke-width="0.2">MACD(12,26,9) 16.1221 15.0570</text>
<g shape-rendering="crispEdges">
<rect x="1678" y="713" width="2" height="1" fill="#000"/>
</g>
<text transform="translate(1680.60,620.85) scale(0.9351,1)" font-size="10" fill="#000" stroke="#000" stroke-width="0.2">24.8047</text>
<text transform="translate(1680.60,716.85) scale(0.9454,1)" font-size="10" fill="#000" stroke="#000" stroke-width="0.2">0.00</text>
<text transform="translate(1680.60,748.85) scale(0.9376,1)" font-size="10" fill="#000" stroke="#000" stroke-width="0.2">-9.4018</text>
<g clip-path="url(#cr)">
<g shape-rendering="crispEdges">
<line x1="3" y1="791.5" x2="1677" y2="791.5" stroke="#c0c0c0" stroke-width="1" stroke-dasharray="3 3"/>
<line x1="3" y1="838.5" x2="1677" y2="838.5" stroke="#c0c0c0" stroke-width="1" stroke-dasharray="3 3"/>
</g>
<polyline shape-rendering="crispEdges" fill="none" stroke="#1e90ff" stroke-width="1" points="2.5,809.4 10.5,808.4 18.5,812.4 26.5,808.0 34.5,805.6 42.5,804.6 50.5,806.4 58.5,803.4 66.5,811.0 74.5,815.3 82.5,809.6 90.5,803.4 98.5,798.6 106.5,798.4 114.5,795.4 122.5,791.4 130.5,791.4 138.5,795.0 146.5,801.4 154.5,799.4 162.5,796.4 170.5,807.4 178.5,806.0 186.5,802.0 194.5,798.4 202.5,802.0 210.5,800.4 218.5,795.4 226.5,798.6 234.5,803.6 242.5,821.3 250.5,819.3 258.5,824.9 266.5,829.3 274.5,824.3 282.5,825.3 290.5,826.5 298.5,828.3 306.5,829.5 314.5,818.3 322.5,821.3 330.5,817.3 338.5,819.3 346.5,812.4 354.5,810.6 362.5,811.4 370.5,812.4 378.5,819.3 386.5,814.5 394.5,822.5 402.5,819.5 410.5,822.5 418.5,817.5 426.5,817.3 434.5,809.6 442.5,802.4 450.5,802.4 458.5,804.4 466.5,816.3 474.5,816.3 482.5,816.3 490.5,810.0 498.5,798.6 506.5,803.4 514.5,806.4 522.5,804.4 530.5,817.5 538.5,805.6 546.5,805.6 554.5,805.6 562.5,806.6 570.5,805.4 578.5,798.4 586.5,796.4 594.5,798.4 602.5,798.4 610.5,798.6 618.5,803.4 626.5,807.4 634.5,799.6 642.5,796.6 650.5,797.6 658.5,796.4 666.5,790.6 674.5,789.4 682.5,793.4 690.5,792.4 698.5,793.6 706.5,795.4 714.5,792.4 722.5,806.4 730.5,801.6 738.5,791.4 746.5,793.4 754.5,802.4 762.5,797.6 770.5,802.4 778.5,801.4 786.5,797.6 794.5,797.4 802.5,799.6 810.5,796.6 818.5,796.4 826.5,798.4 834.5,798.4 842.5,795.4 850.5,797.6 858.5,793.6 866.5,790.6 874.5,790.6 882.5,793.6 890.5,820.3 898.5,816.5 906.5,817.5 914.5,806.6 922.5,806.6 930.5,799.6 938.5,798.6 946.5,800.4 954.5,802.4 962.5,802.4 970.5,804.6 978.5,799.6 986.5,805.4 994.5,801.4 1002.5,803.0 1010.5,812.6 1018.5,809.4 1026.5,807.4 1034.5,808.4 1042.5,812.4 1050.5,807.6 1058.5,806.4 1066.5,805.6 1074.5,806.6 1082.5,802.4 1090.5,803.4 1098.5,798.6 1106.5,804.0 1114.5,808.4 1122.5,803.6 1130.5,803.4 1138.5,801.4 1146.5,799.4 1154.5,797.4 1162.5,798.4 1170.5,799.4 1178.5,796.4 1186.5,819.3 1194.5,825.3 1202.5,830.3 1210.5,824.5 1218.5,823.3 1226.5,812.0 1234.5,808.0 1242.5,804.6 1250.5,804.6 1258.5,810.4 1266.5,823.5 1274.5,812.6 1282.5,805.6 1290.5,806.6 1298.5,803.6 1306.5,802.4 1314.5,797.6 1322.5,793.4 1330.5,797.4 1338.5,793.4 1346.5,791.4 1354.5,788.6 1362.5,787.4 1370.5,790.4 1378.5,802.4 1386.5,797.4 1394.5,795.4 1402.5,797.4 1410.5,797.4 1418.5,797.4 1426.5,790.6 1434.5,785.4 1442.5,784.4 1450.5,786.4 1458.5,786.4 1466.5,790.4 1474.5,782.4 1482.5,793.4 1490.5,789.4 1498.5,785.4 1506.5,795.4 1514.5,793.4 1522.5,797.4 1530.5,793.6 1538.5,793.4 1546.5,789.4 1554.5,788.4 1562.5,791.4 1570.5,795.4 1578.5,803.4 1586.5,805.6 1594.5,806.6 1602.5,803.4 1610.5,798.6 1618.5,804.6 1626.5,803.4 1634.5,796.0 1642.5,794.0 1650.5,792.6 1658.5,792.6"/>
</g>
<text transform="translate(6.20,766.85) scale(0.9308,1)" font-size="10" fill="#000" stroke="#000" stroke-width="0.2">RSI(14) 68.7653</text>
<g shape-rendering="crispEdges">
<rect x="1677" y="791" width="1" height="1" fill="#c8c8c8"/>
<rect x="1677" y="838" width="1" height="1" fill="#c8c8c8"/>
</g>
<text transform="translate(1680.60,764.85) scale(0.9470,1)" font-size="10" fill="#000" stroke="#000" stroke-width="0.2">100</text>
<text transform="translate(1680.00,794.85) scale(0.9170,1)" font-size="10" fill="#000" stroke="#000" stroke-width="0.2">70</text>
<text transform="translate(1680.00,841.85) scale(0.9170,1)" font-size="10" fill="#000" stroke="#000" stroke-width="0.2">30</text>
<text transform="translate(1680.50,870.85) scale(1.0609,1)" font-size="10" fill="#000" stroke="#000" stroke-width="0.2">0</text>
<g shape-rendering="crispEdges">
<rect x="2" y="875" width="1" height="3" fill="#000"/>
<rect x="66" y="875" width="1" height="3" fill="#000"/>
<rect x="130" y="875" width="1" height="3" fill="#000"/>
<rect x="194" y="875" width="1" height="3" fill="#000"/>
<rect x="258" y="875" width="1" height="3" fill="#000"/>
<rect x="322" y="875" width="1" height="3" fill="#000"/>
<rect x="386" y="875" width="1" height="3" fill="#000"/>
<rect x="450" y="875" width="1" height="3" fill="#000"/>
<rect x="514" y="875" width="1" height="3" fill="#000"/>
<rect x="578" y="875" width="1" height="3" fill="#000"/>
<rect x="642" y="875" width="1" height="3" fill="#000"/>
<rect x="706" y="875" width="1" height="3" fill="#000"/>
<rect x="770" y="875" width="1" height="3" fill="#000"/>
<rect x="834" y="875" width="1" height="3" fill="#000"/>
<rect x="898" y="875" width="1" height="3" fill="#000"/>
<rect x="962" y="875" width="1" height="3" fill="#000"/>
<rect x="1026" y="875" width="1" height="3" fill="#000"/>
<rect x="1090" y="875" width="1" height="3" fill="#000"/>
<rect x="1154" y="875" width="1" height="3" fill="#000"/>
<rect x="1218" y="875" width="1" height="3" fill="#000"/>
<rect x="1282" y="875" width="1" height="3" fill="#000"/>
<rect x="1346" y="875" width="1" height="3" fill="#000"/>
<rect x="1410" y="875" width="1" height="3" fill="#000"/>
<rect x="1474" y="875" width="1" height="3" fill="#000"/>
<rect x="1538" y="875" width="1" height="3" fill="#000"/>
<rect x="1602" y="875" width="1" height="3" fill="#000"/>
</g>
<text transform="translate(1.00,886.85) scale(0.8954,1)" font-size="10" fill="#000" stroke="#000" stroke-width="0.2">16 Jul 2020</text>
<text transform="translate(65.00,886.85) scale(0.9250,1)" font-size="10" fill="#000" stroke="#000" stroke-width="0.2">20 Jul 00:00</text>
<text transform="translate(129.00,886.85) scale(0.9250,1)" font-size="10" fill="#000" stroke="#000" stroke-width="0.2">21 Jul 08:00</text>
<text transform="translate(193.00,886.85) scale(0.9250,1)" font-size="10" fill="#000" stroke="#000" stroke-width="0.2">22 Jul 16:00</text>
<text transform="translate(257.00,886.85) scale(0.9250,1)" font-size="10" fill="#000" stroke="#000" stroke-width="0.2">24 Jul 00:00</text>
<text transform="translate(321.00,886.85) scale(0.9250,1)" font-size="10" fill="#000" stroke="#000" stroke-width="0.2">27 Jul 04:00</text>
<text transform="translate(385.00,886.85) scale(0.9250,1)" font-size="10" fill="#000" stroke="#000" stroke-width="0.2">28 Jul 12:00</text>
<text transform="translate(449.00,886.85) scale(0.9250,1)" font-size="10" fill="#000" stroke="#000" stroke-width="0.2">29 Jul 20:00</text>
<text transform="translate(513.00,886.85) scale(0.9250,1)" font-size="10" fill="#000" stroke="#000" stroke-width="0.2">31 Jul 04:00</text>
<text transform="translate(577.00,886.85) scale(0.9535,1)" font-size="10" fill="#000" stroke="#000" stroke-width="0.2">3 Aug 08:00</text>
<text transform="translate(641.00,886.85) scale(0.9535,1)" font-size="10" fill="#000" stroke="#000" stroke-width="0.2">4 Aug 16:00</text>
<text transform="translate(705.00,886.85) scale(0.9535,1)" font-size="10" fill="#000" stroke="#000" stroke-width="0.2">6 Aug 00:00</text>
<text transform="translate(769.00,886.85) scale(0.9535,1)" font-size="10" fill="#000" stroke="#000" stroke-width="0.2">7 Aug 08:00</text>
<text transform="translate(833.00,886.85) scale(0.9517,1)" font-size="10" fill="#000" stroke="#000" stroke-width="0.2">10 Aug 12:00</text>
<text transform="translate(897.00,886.85) scale(0.9639,1)" font-size="10" fill="#000" stroke="#000" stroke-width="0.2">11 Aug 20:00</text>
<text transform="translate(961.00,886.85) scale(0.9517,1)" font-size="10" fill="#000" stroke="#000" stroke-width="0.2">13 Aug 04:00</text>
<text transform="translate(1025.00,886.85) scale(0.9517,1)" font-size="10" fill="#000" stroke="#000" stroke-width="0.2">14 Aug 12:00</text>
<text transform="translate(1089.00,886.85) scale(0.9517,1)" font-size="10" fill="#000" stroke="#000" stroke-width="0.2">17 Aug 16:00</text>
<text transform="translate(1153.00,886.85) scale(0.9517,1)" font-size="10" fill="#000" stroke="#000" stroke-width="0.2">19 Aug 00:00</text>
<text transform="translate(1217.00,886.85) scale(0.9517,1)" font-size="10" fill="#000" stroke="#000" stroke-width="0.2">20 Aug 08:00</text>
<text transform="translate(1281.00,886.85) scale(0.9517,1)" font-size="10" fill="#000" stroke="#000" stroke-width="0.2">21 Aug 16:00</text>
<text transform="translate(1345.00,886.85) scale(0.9517,1)" font-size="10" fill="#000" stroke="#000" stroke-width="0.2">24 Aug 20:00</text>
<text transform="translate(1409.00,886.85) scale(0.9517,1)" font-size="10" fill="#000" stroke="#000" stroke-width="0.2">26 Aug 04:00</text>
<text transform="translate(1473.00,886.85) scale(0.9517,1)" font-size="10" fill="#000" stroke="#000" stroke-width="0.2">27 Aug 12:00</text>
<text transform="translate(1537.00,886.85) scale(0.9517,1)" font-size="10" fill="#000" stroke="#000" stroke-width="0.2">28 Aug 20:00</text>
<text transform="translate(1601.00,886.85) scale(0.9196,1)" font-size="10" fill="#000" stroke="#000" stroke-width="0.2">1 Sep 00:00</text>
</svg>
</body></html>
